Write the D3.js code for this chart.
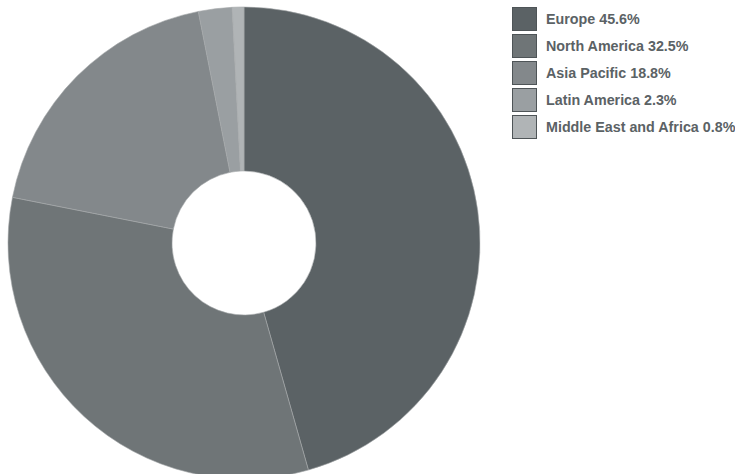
<!DOCTYPE html>
<html>
<head>
<meta charset="utf-8">
<script src="https://cdn.jsdelivr.net/npm/d3@7"></script>
<style>
  body { margin: 0; background: #fff; }
  svg { display: block; }
  .legend text { font-family: "Liberation Sans", Arial, sans-serif; font-weight: bold; font-size: 14.3px; fill: #5b6265; }
</style>
</head>
<body>
<div id="chart"></div>
<script>
var regions = ["Europe", "North America", "Asia Pacific", "Latin America", "Middle East and Africa"];
var shares = [45.6, 32.5, 18.8, 2.3, 0.8];
var colors = ["#5b6265", "#6f7577", "#83888b", "#9a9fa2", "#b0b4b6"];

var width = 735, height = 474;
var cx = 244, cy = 243, outer = 236, inner = 72;

var svg = d3.select("#chart").append("svg")
    .attr("width", width)
    .attr("height", height);

var pie = d3.pie().sort(null).value(function(d) { return d; });
var arc = d3.arc().innerRadius(inner).outerRadius(outer);
var color = d3.scaleOrdinal().domain(regions).range(colors);

svg.append("g")
    .attr("transform", "translate(" + cx + "," + cy + ")")
    .selectAll("path")
    .data(pie(shares))
    .enter().append("path")
    .attr("d", arc)
    .attr("fill", function(d, i) { return color(regions[i]); })
    .attr("stroke", "#a4a8aa")
    .attr("stroke-width", 0.6);

var legend = svg.append("g")
    .attr("class", "legend")
    .attr("transform", "translate(512,7)");

var row = legend.selectAll("g")
    .data(regions)
    .enter().append("g")
    .attr("transform", function(d, i) { return "translate(0," + (i * 27) + ")"; });

row.append("rect")
    .attr("x", 0.5)
    .attr("y", 0.5)
    .attr("width", 24)
    .attr("height", 23)
    .attr("fill", function(d) { return color(d); })
    .attr("stroke", "#4e5457")
    .attr("stroke-width", 1);

row.append("text")
    .attr("x", 34)
    .attr("y", 12)
    .attr("dy", "0.35em")
    .text(function(d, i) { return d + " " + shares[i] + "%"; });
</script>
</body>
</html>
